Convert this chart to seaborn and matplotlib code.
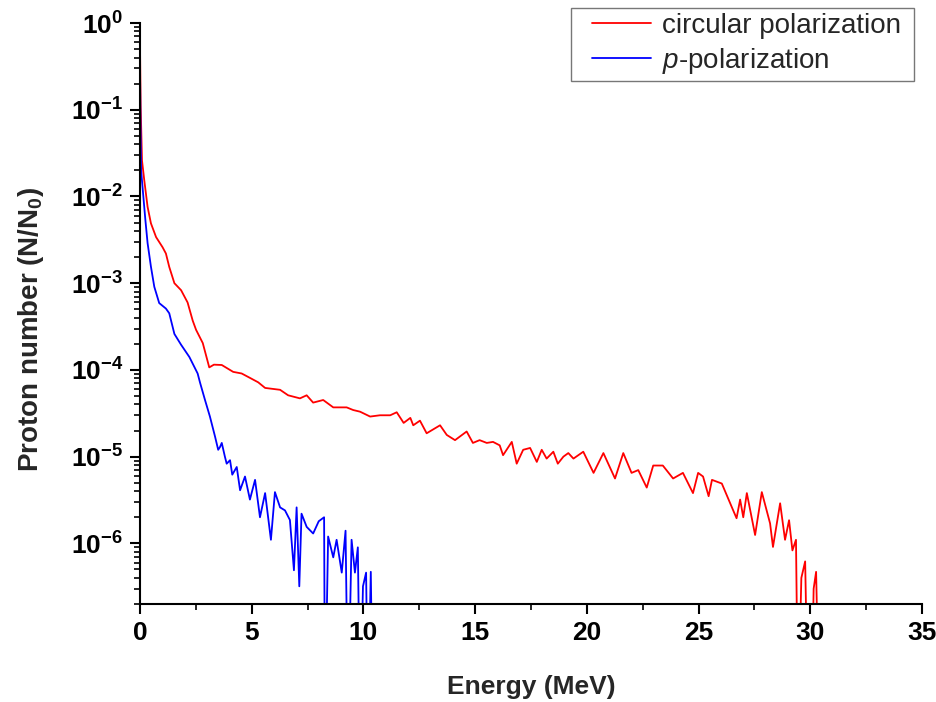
import numpy as np
import pandas as pd
import matplotlib
matplotlib.use("Agg")
import matplotlib.pyplot as plt
import seaborn as sns
from matplotlib.ticker import FixedLocator, LogLocator, FuncFormatter, NullFormatter
from matplotlib.legend_handler import HandlerLine2D
from matplotlib.lines import Line2D

# ---- data ----
red_x = [0.0, 0.03, 0.09, 0.19, 0.34, 0.49, 0.72, 1.01, 1.16, 1.31, 1.54, 1.84, 2.13, 2.36, 2.51,
         2.81, 3.10, 3.31, 3.66, 4.17, 4.55, 4.92, 5.29, 5.6, 6.27, 6.63, 7.16, 7.46, 7.75, 8.2,
         8.65, 9.25, 9.54, 9.85, 10.3, 10.74, 11.2, 11.49, 11.8, 12.1, 12.23, 12.53, 12.83, 13.43,
         13.73, 14.1, 14.62, 14.9, 15.2, 15.52, 15.8, 16.1, 16.25, 16.64, 16.86, 17.15, 17.46,
         17.76, 17.98, 18.2, 18.5, 18.7, 18.95, 19.17, 19.4, 19.84, 20.3, 20.74, 21.26, 21.63,
         22.0, 22.3, 22.68, 22.97, 23.4, 23.86, 24.3, 24.75, 24.98, 25.2, 25.45, 25.6, 26.04,
         26.55, 26.7, 26.86, 27.0, 27.16, 27.53, 27.83, 28.2, 28.33, 28.65, 28.87, 29.05, 29.2,
         29.36, 29.45, 29.6, 29.77, 29.9, 30.05, 30.15, 30.26, 30.4]
red_y = [0.56, 0.11, 0.026, 0.0155, 0.0076, 0.0049, 0.0034, 0.0026, 0.0022, 0.00154, 0.0010,
         0.00083, 0.0006, 0.00037, 0.00029, 0.000204, 0.000107, 0.000115, 0.000114, 9.5e-5,
         9.1e-5, 8.1e-5, 7.2e-5, 6.2e-5, 5.9e-5, 5.1e-5, 4.7e-5, 5.1e-5, 4.2e-5, 4.5e-5, 3.7e-5,
         3.7e-5, 3.45e-5, 3.3e-5, 2.9e-5, 3.0e-5, 3.0e-5, 3.25e-5, 2.45e-5, 2.8e-5, 2.3e-5,
         2.6e-5, 1.86e-5, 2.3e-5, 1.78e-5, 1.55e-5, 1.95e-5, 1.44e-5, 1.55e-5, 1.44e-5, 1.48e-5,
         1.35e-5, 1.04e-5, 1.48e-5, 8.3e-6, 1.2e-5, 1.26e-5, 8.7e-6, 1.2e-5, 9.5e-6, 1.14e-5,
         8.3e-6, 1.0e-5, 1.1e-5, 9.5e-6, 1.14e-5, 6.5e-6, 1.1e-5, 5.6e-6, 1.1e-5, 6.5e-6, 7.0e-6,
         4.4e-6, 7.9e-6, 7.9e-6, 5.6e-6, 6.5e-6, 3.8e-6, 6.5e-6, 5.9e-6, 3.5e-6, 5.4e-6, 4.9e-6,
         2.4e-6, 1.95e-6, 3.2e-6, 2.0e-6, 3.8e-6, 1.25e-6, 3.9e-6, 1.7e-6, 9.1e-7, 2.9e-6, 1.1e-6,
         1.85e-6, 8.3e-7, 1.1e-6, 1e-8, 4e-7, 6.2e-7, 1e-8, 1e-8, 3e-7, 4.7e-7, 1e-8]

blue_x = [0.0, 0.02, 0.05, 0.15, 0.24, 0.34, 0.49, 0.64, 0.86, 1.16, 1.31, 1.54, 1.84, 2.21, 2.58,
          2.69, 2.91, 3.13, 3.36, 3.5, 3.58, 3.66, 3.8, 3.88, 4.03, 4.13, 4.33, 4.48, 4.7, 4.92,
          5.15, 5.37, 5.6, 5.86, 6.04, 6.27, 6.49, 6.71, 6.89, 7.01, 7.13, 7.23, 7.46, 7.75, 8.0,
          8.24, 8.28, 8.42, 8.65, 8.8, 9.03, 9.2, 9.31, 9.47, 9.62, 9.75, 9.85, 9.98, 10.12, 10.2,
          10.33, 10.42]
blue_y = [0.32, 0.076, 0.02, 0.01, 0.0054, 0.0029, 0.00155, 0.00091, 0.00059, 0.00051, 0.00045,
          0.00026, 0.000195, 0.000141, 9.1e-5, 7.1e-5, 4.5e-5, 2.9e-5, 1.7e-5, 1.2e-5, 1.29e-5,
          1.44e-5, 1.0e-5, 8.3e-6, 9.1e-6, 6.2e-6, 7.6e-6, 4.1e-6, 5.9e-6, 3.2e-6, 5.4e-6, 2.0e-6,
          3.8e-6, 1.1e-6, 3.9e-6, 2.6e-6, 2.4e-6, 1.86e-6, 4.9e-7, 2.6e-6, 3.2e-7, 2.2e-6, 1.55e-6,
          1.3e-6, 1.8e-6, 2.0e-6, 1e-8, 1.2e-6, 6.9e-7, 1.1e-6, 4.6e-7, 1.4e-6, 1e-8, 1.1e-6,
          4.6e-7, 9e-7, 1e-8, 3.2e-7, 4.6e-7, 1e-8, 4.7e-7, 1e-8]

series_names = ["circular polarization", "p-polarization"]
legend_labels = ["circular polarization ", r"$\mathit{p}$-polarization "]
series_colors = ["#ff0000", "#0000ff"]
x_ticks = [0, 5, 10, 15, 20, 25, 30, 35]
y_ticks = [1e0, 1e-1, 1e-2, 1e-3, 1e-4, 1e-5, 1e-6]

df = pd.concat([
    pd.DataFrame({"Energy": red_x, "N": red_y, "series": series_names[0]}),
    pd.DataFrame({"Energy": blue_x, "N": blue_y, "series": series_names[1]}),
], ignore_index=True)

sns.set_theme(style="ticks")
plt.rcParams["font.family"] = ["Liberation Sans", "DejaVu Sans"]
plt.rcParams["mathtext.fontset"] = "custom"
plt.rcParams["mathtext.rm"] = "Liberation Sans:bold"
plt.rcParams["mathtext.bf"] = "Liberation Sans:bold"
plt.rcParams["mathtext.it"] = "Liberation Sans:italic"
plt.rcParams["mathtext.default"] = "bf"

fig = plt.figure(figsize=(9.37, 7.02), dpi=100)
ax = fig.add_axes([0.1494, 0.1396, 0.8346, 0.8276])

sns.lineplot(data=df, x="Energy", y="N", hue="series", hue_order=series_names,
             palette=dict(zip(series_names, series_colors)), estimator=None, sort=False,
             linewidth=1.3, ax=ax)

ax.set_yscale("log")
ax.set_xlim(0, 35)
ax.set_ylim(2e-7, 1)
ax.xaxis.set_major_locator(FixedLocator(x_ticks))
ax.xaxis.set_minor_locator(FixedLocator(np.arange(2.5, 35, 5)))
ax.yaxis.set_major_locator(FixedLocator(y_ticks))
ax.yaxis.set_minor_locator(LogLocator(base=10, subs=np.arange(2, 10), numticks=20))
ax.yaxis.set_minor_formatter(NullFormatter())
ax.yaxis.set_major_formatter(FuncFormatter(lambda v, p: r"$10^{%d}$" % int(round(np.log10(v)))))
ax.xaxis.set_major_formatter(FuncFormatter(lambda v, p: "%d" % v))

for s in ["top", "right"]:
    ax.spines[s].set_visible(False)
for s in ["left", "bottom"]:
    ax.spines[s].set_linewidth(1.5)
    ax.spines[s].set_color("black")

ax.tick_params(axis="both", which="major", direction="out", length=7, width=1.5,
               labelsize=19, colors="black", pad=5)
ax.tick_params(axis="both", which="minor", direction="out", length=4, width=1.2, colors="black")
for lab in ax.get_xticklabels() + ax.get_yticklabels():
    lab.set_fontweight("bold")

ax.set_xlabel("Energy (MeV)", fontsize=19, fontweight="bold", labelpad=22)
ax.set_ylabel(r"Proton number (N/N$_0$)", fontsize=20, fontweight="bold")
ax.yaxis.set_label_coords(-0.1202, 0.473)

handles, _ = ax.get_legend_handles_labels()
leg = ax.legend(handles, legend_labels, loc="upper right", bbox_to_anchor=(914 / 937, 1 - 8 / 702),
                bbox_transform=fig.transFigure, fontsize=20, frameon=True, fancybox=False,
                edgecolor="#555555", handlelength=2.7, handletextpad=0.4, labelspacing=0.24,
                borderpad=0.18, borderaxespad=0,
                handler_map={Line2D: HandlerLine2D(xpad=0.58)})
leg.get_frame().set_linewidth(1.0)
for t in leg.get_texts():
    t.set_fontweight("normal")

fig.savefig("out.png", dpi=100, facecolor="white")
